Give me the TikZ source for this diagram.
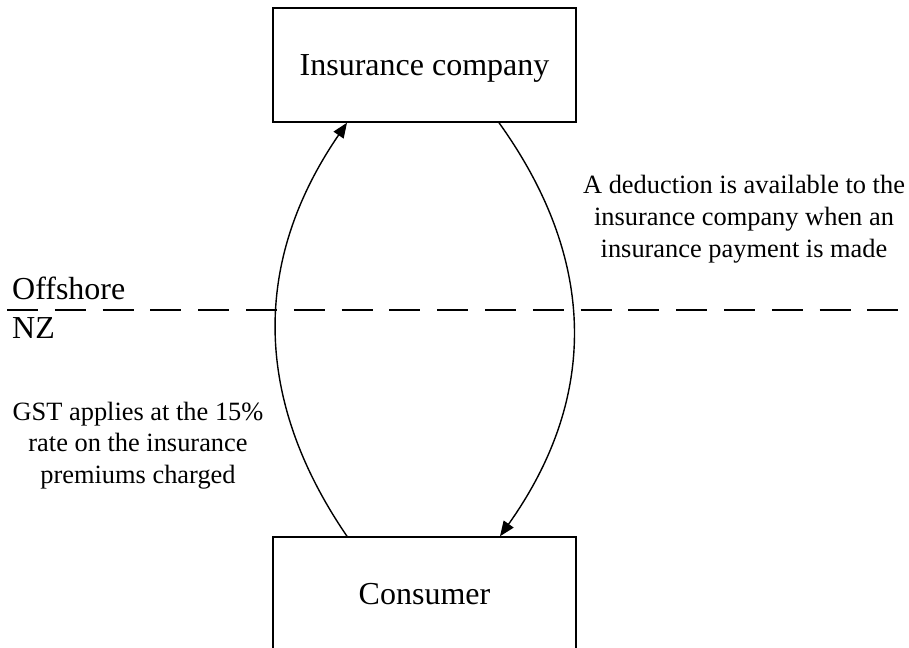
\documentclass[tikz,border=0pt]{standalone}
\usepackage{fontspec}
\setmainfont{Liberation Serif}
\usetikzlibrary{arrows.meta}
\begin{document}
\begin{tikzpicture}[x=1pt,y=1pt,
  box/.style={draw=black, line width=1.5pt, minimum width=303pt, minimum height=114pt, inner sep=0pt,
    font=\fontsize{32}{38}\selectfont, text height=21pt, text depth=0pt},
  flow/.style={line width=1.4pt, -{Triangle[length=15pt,width=12pt]}},
  note/.style={inner sep=0pt, align=center, font=\fontsize{26.4}{31.8}\selectfont},
  zone/.style={inner sep=0pt, anchor=base west, font=\fontsize{32}{38}\selectfont},
  border/.style={line width=1.8pt, dash pattern=on 31pt off 16.8pt}]
\useasboundingbox (0,0) rectangle (909,-647);
\clip (0,0) rectangle (909,-647);
\coordinate (dl) at (7,-310);
\coordinate (dr) at (909,-310);
\draw[border] (dl) -- (dr);
\node[box] (ins) at (424.5,-65) {Insurance company};
\node[box] (con) at (424.5,-594) {Consumer};
\node[zone] (off) at (12,-299) {Offshore};
\node[zone] (nz) at (12,-338) {NZ};
\node[note] (ded) at (744,-219) {A deduction is available to the\\insurance company when an\\insurance payment is made};
\node[note] (gst) at (138,-445.5) {GST applies at the 15\%\\rate on the insurance\\premiums charged};
\draw[flow] ([xshift=-77.5pt]con.north) .. controls ([xshift=-172pt,yshift=138pt]con.north) and ([xshift=-172pt,yshift=-138pt]ins.south) .. ([xshift=-77.5pt]ins.south);
\draw[flow] ([xshift=74.5pt]ins.south) .. controls ([xshift=173.5pt,yshift=-138pt]ins.south) and ([xshift=173.5pt,yshift=138pt]con.north) .. ([xshift=75.5pt]con.north);
\end{tikzpicture}
\end{document}
